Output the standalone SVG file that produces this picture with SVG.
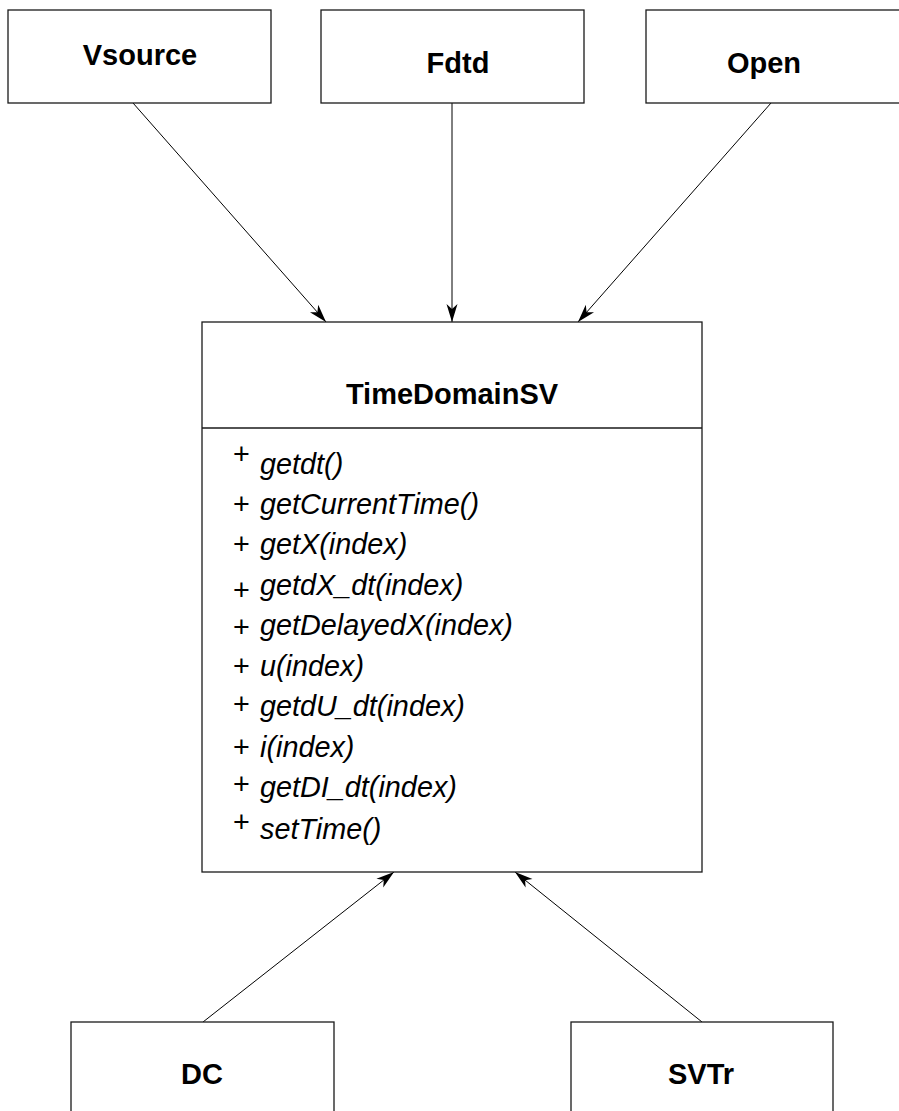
<svg xmlns="http://www.w3.org/2000/svg" width="899" height="1111" viewBox="0 0 899 1111">
  <style>
    .box { fill: #ffffff; stroke: #1a1a1a; stroke-width: 1.3; }
    .title { font-family: "Liberation Sans", Arial, sans-serif; font-weight: bold; font-size: 29px; fill: #000; }
    .op { font-family: "Liberation Sans", Arial, sans-serif; font-size: 28.8px; fill: #000; }
    .method { font-family: "Liberation Sans", Arial, sans-serif; font-style: italic; font-size: 28.8px; fill: #000; }
    .edge { stroke: #000; stroke-width: 1; fill: none; marker-end: url(#arrow); }
  </style>
  <defs>
    <marker id="arrow" markerUnits="userSpaceOnUse" viewBox="-19 -7 21 14" refX="0" refY="0" markerWidth="21" markerHeight="14" orient="auto">
      <path d="M0,0 L-18,-5.5 L-13,0 L-18,5.5 Z" fill="#000"/>
    </marker>
  </defs>

  <rect width="899" height="1111" fill="#ffffff"/>

  <!-- dependency connectors -->
  <g id="connectors">
    <line class="edge" x1="133" y1="103" x2="326" y2="322"/>
    <line class="edge" x1="452" y1="103" x2="452" y2="322"/>
    <line class="edge" x1="771" y1="103" x2="578" y2="322"/>
    <line class="edge" x1="203" y1="1022" x2="394" y2="872"/>
    <line class="edge" x1="702" y1="1022" x2="515" y2="872"/>
  </g>

  <g id="node-vsource">
    <rect class="box" x="8" y="10" width="263" height="93"/>
    <text class="title" x="140" y="65" text-anchor="middle">Vsource</text>
  </g>

  <g id="node-fdtd">
    <rect class="box" x="321" y="10" width="263" height="93"/>
    <text class="title" x="458" y="73" text-anchor="middle">Fdtd</text>
  </g>

  <g id="node-open">
    <rect class="box" x="646" y="10" width="263" height="93"/>
    <text class="title" x="764" y="73" text-anchor="middle">Open</text>
  </g>

  <g id="node-timedomainsv">
    <rect class="box" x="202" y="322" width="500" height="550"/>
    <line x1="202" y1="428" x2="702" y2="428" stroke="#1a1a1a" stroke-width="1.3"/>
    <text class="title" x="452" y="404" text-anchor="middle">TimeDomainSV</text>
    <text class="op" x="233" y="464">+</text>
    <text class="method" x="260" y="474">getdt()</text>
    <text class="op" x="233" y="514">+</text>
    <text class="method" x="260" y="514">getCurrentTime()</text>
    <text class="op" x="233" y="554">+</text>
    <text class="method" x="260" y="554">getX(index)</text>
    <text class="op" x="233" y="600">+</text>
    <text class="method" x="260" y="595">getdX_dt(index)</text>
    <text class="op" x="233" y="637">+</text>
    <text class="method" x="260" y="635">getDelayedX(index)</text>
    <text class="op" x="233" y="676">+</text>
    <text class="method" x="260" y="676">u(index)</text>
    <text class="op" x="233" y="714">+</text>
    <text class="method" x="260" y="716">getdU_dt(index)</text>
    <text class="op" x="233" y="757">+</text>
    <text class="method" x="260" y="757">i(index)</text>
    <text class="op" x="233" y="794">+</text>
    <text class="method" x="260" y="797">getDI_dt(index)</text>
    <text class="op" x="233" y="832">+</text>
    <text class="method" x="260" y="839">setTime()</text>
  </g>

  <g id="node-dc">
    <rect class="box" x="71" y="1022" width="263" height="100"/>
    <text class="title" x="202" y="1084" text-anchor="middle">DC</text>
  </g>

  <g id="node-svtr">
    <rect class="box" x="571" y="1022" width="262" height="100"/>
    <text class="title" x="701" y="1084" text-anchor="middle">SVTr</text>
  </g>
</svg>
